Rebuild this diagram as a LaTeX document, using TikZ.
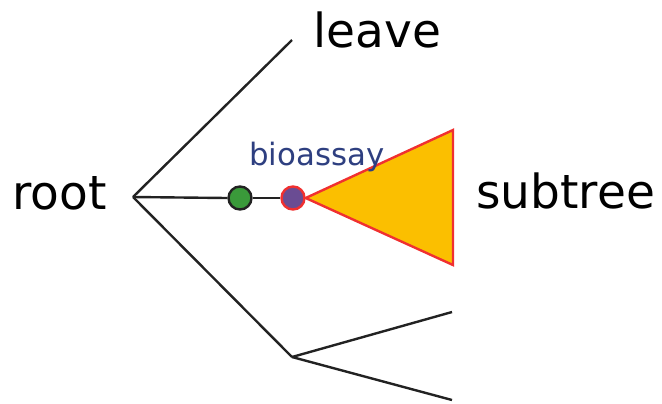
\documentclass[tikz,border=0pt]{standalone}
\usepackage{fontspec}
\setmainfont{DejaVu Sans}
\usetikzlibrary{positioning}
\definecolor{TreeInk}{HTML}{222222}
\definecolor{TreeGreen}{HTML}{3A9A3A}
\definecolor{TreePurple}{HTML}{6A4C93}
\definecolor{TreeRed}{HTML}{F03030}
\definecolor{TreeOrange}{HTML}{FBBF00}
\definecolor{TreeBlue}{HTML}{2E3F80}
\tikzset{
  branch/.style={draw=TreeInk,line width=1.2pt},
  bigtext/.style={font=\fontsize{23.5}{28}\selectfont,inner sep=0pt,anchor=base west},
  smalltext/.style={font=\fontsize{15.4}{18}\selectfont,text=TreeBlue,inner sep=0pt,anchor=base west},
  dot/.style={circle,minimum size=11.5pt,inner sep=0pt,line width=1.2pt}
}
\begin{document}
\begin{tikzpicture}[x=0.5pt,y=-0.5pt]
  \useasboundingbox (0,0) rectangle (662,403);
  % branch points
  \coordinate (root) at (133,197);
  \coordinate (leaf) at (292,40);
  \coordinate (fork) at (292,357);
  \coordinate (upper) at (452,312);
  \coordinate (lower) at (452,400);
  \coordinate (tipA) at (453,130);
  \coordinate (tipB) at (453,265);

  \draw[branch] (root) -- (leaf);
  \draw[branch] (root) -- (fork);
  \draw[branch] (fork) -- (upper);
  \draw[branch] (fork) -- (lower);

  % subtree triangle
  \node[dot,draw=TreeRed,fill=TreePurple] (assay) at (293,198) {};
  \node[dot,draw=TreeInk,fill=TreeGreen] (mid) at (240,198) {};
  \draw[branch] (root) -- (mid.west);
  \draw[branch] (mid.east) -- (assay.west);
  \draw[draw=TreeRed,fill=TreeOrange,line width=1.2pt,line join=miter]
    (assay.east) -- (tipA) -- (tipB) -- cycle;

  % labels
  \node[bigtext] (rootlabel) at (12,209) {root};
  \node[bigtext] (leavelabel) at (313,47) {leave};
  \node[bigtext] (subtreelabel) at (476,208) {subtree};
  \node[smalltext] (assaylabel) at (249,165) {bioassay};
\end{tikzpicture}
\end{document}
